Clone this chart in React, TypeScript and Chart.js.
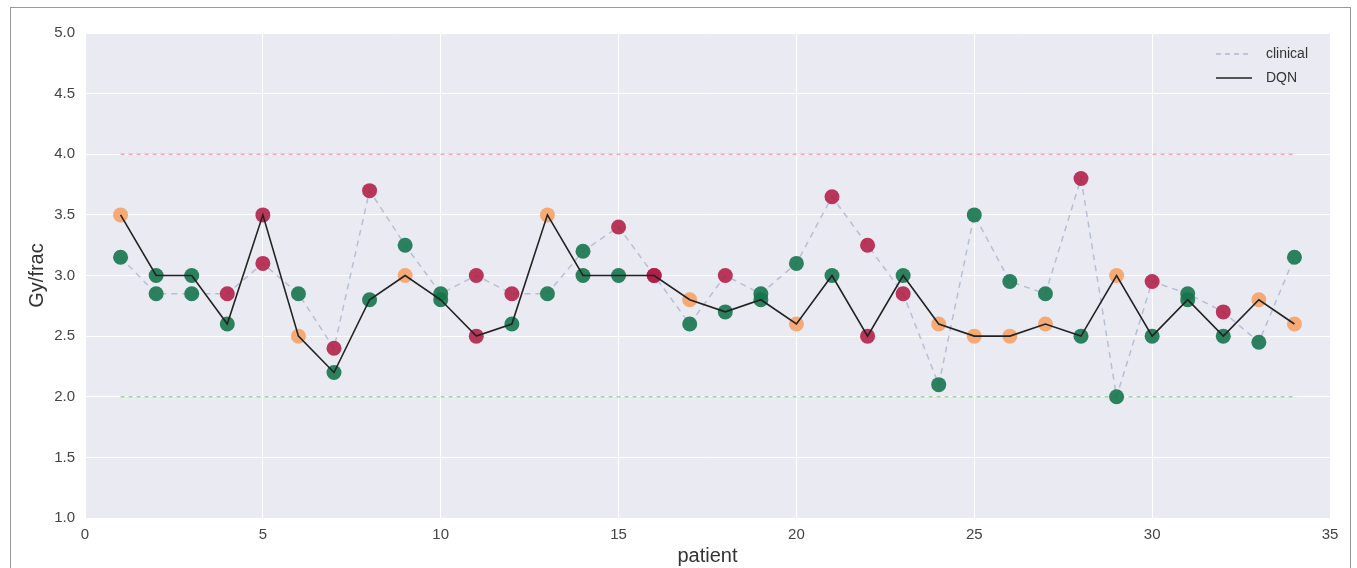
import React, { useEffect, useRef } from "react";
import { Chart, registerables } from "chart.js";

Chart.register(...registerables);

const patients = [1, 2, 3, 4, 5, 6, 7, 8, 9, 10, 11, 12, 13, 14, 15, 16, 17, 18, 19, 20, 21, 22, 23, 24, 25, 26, 27, 28, 29, 30, 31, 32, 33, 34];
const dqnValues = [3.5, 3.0, 3.0, 2.6, 3.5, 2.5, 2.2, 2.8, 3.0, 2.8, 2.5, 2.6, 3.5, 3.0, 3.0, 3.0, 2.8, 2.7, 2.8, 2.6, 3.0, 2.5, 3.0, 2.6, 2.5, 2.5, 2.6, 2.5, 3.0, 2.5, 2.8, 2.5, 2.8, 2.6];
const dqnClass = ["o", "g", "g", "g", "r", "o", "g", "g", "o", "g", "r", "g", "o", "g", "g", "r", "o", "g", "g", "o", "g", "r", "g", "o", "o", "o", "o", "g", "o", "g", "g", "g", "o", "o"];
const clinicalValues = [3.15, 2.85, 2.85, 2.85, 3.1, 2.85, 2.4, 3.7, 3.25, 2.85, 3.0, 2.85, 2.85, 3.2, 3.4, 3.0, 2.6, 3.0, 2.85, 3.1, 3.65, 3.25, 2.85, 2.1, 3.5, 2.95, 2.85, 3.8, 2.0, 2.95, 2.85, 2.7, 2.45, 3.15];
const clinicalClass = ["g", "g", "g", "r", "r", "g", "r", "r", "g", "g", "r", "r", "g", "g", "r", "r", "g", "r", "g", "g", "r", "r", "r", "g", "g", "g", "g", "r", "g", "r", "g", "r", "g", "g"];
const upperLimit = 4.0;
const lowerLimit = 2.0;
const xTicks = [0, 5, 10, 15, 20, 25, 30, 35];
const yTicks = [1.0, 1.5, 2.0, 2.5, 3.0, 3.5, 4.0, 4.5, 5.0];
const legendLabels = ["clinical", "DQN"];

const classColors: Record<string, string> = {
  o: "rgba(246,163,104,0.9)",
  r: "rgba(176,28,68,0.88)",
  g: "rgba(22,116,78,0.9)",
};

const FONT = "'Liberation Sans', Arial, sans-serif";

export default function App() {
  const ref = useRef<HTMLCanvasElement | null>(null);

  useEffect(() => {
    if (!ref.current) return;
    const first = patients[0];
    const last = patients[patients.length - 1];

    const bgPlugin = {
      id: "bg",
      beforeDraw(chart: any) {
        const { ctx, chartArea } = chart;
        ctx.save();
        ctx.fillStyle = "#EAEAF2";
        ctx.fillRect(chartArea.left, chartArea.top, chartArea.right - chartArea.left, chartArea.bottom - chartArea.top);
        ctx.restore();
      },
    };

    const legendPlugin = {
      id: "customLegend",
      afterDraw(chart: any) {
        const { ctx, chartArea } = chart;
        const x0 = chartArea.right - 114;
        const y0 = chartArea.top + 21;
        ctx.save();
        ctx.font = `14px ${FONT}`;
        ctx.textBaseline = "middle";
        ctx.fillStyle = "#333";
        // clinical
        ctx.strokeStyle = "rgba(170,180,205,0.9)";
        ctx.lineWidth = 1.5;
        ctx.setLineDash([5, 4]);
        ctx.beginPath();
        ctx.moveTo(x0, y0);
        ctx.lineTo(x0 + 36, y0);
        ctx.stroke();
        ctx.fillText(legendLabels[0], x0 + 50, y0);
        // DQN
        ctx.setLineDash([]);
        ctx.strokeStyle = "#222";
        ctx.beginPath();
        ctx.moveTo(x0, y0 + 24);
        ctx.lineTo(x0 + 36, y0 + 24);
        ctx.stroke();
        ctx.fillText(legendLabels[1], x0 + 50, y0 + 24);
        ctx.restore();
      },
    };

    const chart = new Chart(ref.current, {
      type: "scatter",
      data: {
        datasets: [
          {
            label: "DQN",
            data: patients.map((p, i) => ({ x: p, y: dqnValues[i] })),
            showLine: true,
            borderColor: "#222",
            borderWidth: 1.6,
            pointRadius: 0,
            order: 0,
          },
          {
            label: "DQN points",
            data: patients.map((p, i) => ({ x: p, y: dqnValues[i] })),
            showLine: false,
            pointRadius: 7.5,
            pointBorderWidth: 0,
            pointBackgroundColor: dqnClass.map((c) => classColors[c]),
            order: 1,
          },
          {
            label: "clinical points",
            data: patients.map((p, i) => ({ x: p, y: clinicalValues[i] })),
            showLine: false,
            pointRadius: 7.5,
            pointBorderWidth: 0,
            pointBackgroundColor: clinicalClass.map((c) => classColors[c]),
            order: 2,
          },
          {
            label: "clinical",
            data: patients.map((p, i) => ({ x: p, y: clinicalValues[i] })),
            showLine: true,
            borderColor: "rgba(170,180,205,0.8)",
            borderWidth: 1.5,
            borderDash: [6, 5],
            pointRadius: 0,
            order: 3,
          },
          {
            label: "upper",
            data: [{ x: first, y: upperLimit }, { x: last, y: upperLimit }],
            showLine: true,
            borderColor: "rgba(240,150,170,0.85)",
            borderWidth: 1.5,
            borderDash: [4, 4],
            pointRadius: 0,
            order: 4,
          },
          {
            label: "lower",
            data: [{ x: first, y: lowerLimit }, { x: last, y: lowerLimit }],
            showLine: true,
            borderColor: "rgba(150,205,150,0.85)",
            borderWidth: 1.5,
            borderDash: [4, 4],
            pointRadius: 0,
            order: 4,
          },
        ],
      },
      options: {
        responsive: false,
        animation: false,
        layout: { padding: { left: 0, right: 27, top: 33, bottom: 0 } },
        plugins: {
          legend: { display: false },
          tooltip: { enabled: false },
        },
        scales: {
          x: {
            type: "linear",
            min: xTicks[0],
            max: xTicks[xTicks.length - 1],
            afterBuildTicks: (scale: any) => {
              scale.ticks = xTicks.map((v) => ({ value: v }));
            },
            afterFit: (scale: any) => {
              scale.height = 50;
            },
            grid: { color: "#ffffff", lineWidth: 1, drawTicks: false },
            border: { display: false },
            ticks: {
              padding: 8,
              color: "#444",
              font: { family: FONT, size: 15 },
              callback: (v: any) => String(v),
            },
            title: {
              display: true,
              text: "patient",
              color: "#333",
              font: { family: FONT, size: 20 },
              padding: { top: 0, bottom: 0 },
            },
          },
          y: {
            type: "linear",
            min: yTicks[0],
            max: yTicks[yTicks.length - 1],
            afterBuildTicks: (scale: any) => {
              scale.ticks = yTicks.map((v) => ({ value: v }));
            },
            afterFit: (scale: any) => {
              scale.width = 85;
            },
            grid: { color: "#ffffff", lineWidth: 1, drawTicks: false },
            border: { display: false },
            ticks: {
              padding: 10,
              color: "#444",
              font: { family: FONT, size: 15 },
              callback: (v: any) => Number(v).toFixed(1),
            },
            title: {
              display: true,
              text: "Gy/frac",
              color: "#333",
              font: { family: FONT, size: 20 },
              padding: { top: 25, bottom: 0 },
            },
          },
        },
      },
      plugins: [bgPlugin, legendPlugin],
    });

    return () => chart.destroy();
  }, []);

  return (
    <div style={{ position: "absolute", left: 0, top: 0, width: 1357, height: 568, overflow: "hidden" }}>
      <div
        style={{
          position: "absolute",
          left: 10,
          top: 7,
          width: 1341,
          height: 561,
          borderLeft: "1px solid #999",
          borderTop: "1px solid #999",
          borderRight: "1px solid #999",
          boxSizing: "border-box",
        }}
      />
      <canvas ref={ref} width={1357} height={568} style={{ position: "absolute", left: 0, top: 0 }} />
    </div>
  );
}
